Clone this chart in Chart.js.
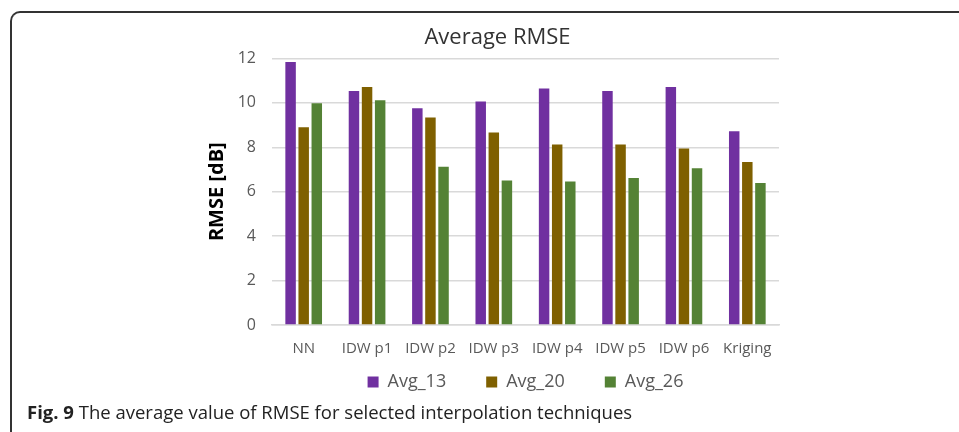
<!DOCTYPE html>
<html>
<head>
<meta charset="utf-8">
<script src="https://cdn.jsdelivr.net/npm/chart.js@4.4.1/dist/chart.umd.min.js"></script>
<style>
    body { margin: 0; background: #fff; width: 959px; height: 432px; overflow: hidden; position: relative; font-family: "Open Sans", sans-serif; }
    .frame { position: absolute; left: 10px; top: 11px; width: 960px; height: 440px; border-left: 2px solid #333; border-top: 2px solid #333; border-top-left-radius: 10px; }
    .chart-box { position: absolute; left: 0; top: 0; width: 959px; height: 443px; }
    .caption { position: absolute; left: 27px; top: 399px; font-size: 18.5px; color: #222; white-space: nowrap; }
    .caption b { font-weight: 700; }
</style>
</head>
<body>
<div class="frame"></div>
<div class="chart-box"><canvas id="rmseChart"></canvas></div>
<div class="caption"><b>Fig. 9</b> The average value of RMSE for selected interpolation techniques</div>
<script>
// interpolation methods on the x axis
const methods = ['NN', 'IDW p1', 'IDW p2', 'IDW p3', 'IDW p4', 'IDW p5', 'IDW p6', 'Kriging'];

// average RMSE per method
const avg13 = [11.84, 10.53, 9.76, 10.06, 10.65, 10.53, 10.71, 8.72];
const avg20 = [8.90, 10.71, 9.34, 8.66, 8.13, 8.13, 7.95, 7.34];
const avg26 = [9.98, 10.12, 7.12, 6.50, 6.46, 6.62, 7.05, 6.39];

const seriesNames = ['Avg_13', 'Avg_20', 'Avg_26'];
const seriesColors = ['#7030A0', '#7F6000', '#548235'];

const yTicks = [0, 2, 4, 6, 8, 10, 12];

const tickColor = '#595959';
const gridColor = '#D9D9D9';

// nudge the legend up under the labels and the title a bit to the right, like the original
const nudgeBoxes = {
    id: 'nudgeBoxes',
    afterLayout: function(chart) {
        chart.legend.top -= 32;
        chart.legend.bottom -= 32;
        chart.titleBlock.left += 20;
    }
};

const ctx = document.getElementById('rmseChart').getContext('2d');
const rmseChart = new Chart(ctx, {
    type: 'bar',
    data: {
        labels: methods,
        datasets: [avg13, avg20, avg26].map((values, i) => ({
            label: seriesNames[i],
            data: values,
            backgroundColor: seriesColors[i],
            borderWidth: 0,
            categoryPercentage: 0.62,
            barPercentage: 0.8
        }))
    },
    options: {
        responsive: true,
        maintainAspectRatio: false,
        animation: false,
        layout: {
            padding: { left: 196, right: 180, top: 14, bottom: 10 }
        },
        scales: {
            x: {
                grid: { display: false },
                border: { color: gridColor, width: 1.5 },
                ticks: {
                    color: tickColor,
                    padding: 7,
                    maxRotation: 0,
                    autoSkip: false,
                    font: { family: 'Open Sans', size: 15 }
                }
            },
            y: {
                min: 0,
                max: 12,
                grid: { color: gridColor, lineWidth: 1.5, drawTicks: false },
                border: { display: false },
                afterBuildTicks: function(scale) {
                    scale.ticks = yTicks.map(v => ({ value: v }));
                },
                ticks: {
                    color: tickColor,
                    padding: 16,
                    font: { family: 'Open Sans', size: 16 }
                },
                title: {
                    display: true,
                    text: 'RMSE [dB]',
                    color: '#000',
                    padding: { top: 9, bottom: 0 },
                    font: { family: 'Open Sans', size: 20, weight: 'bold' }
                },
                afterFit: function(scale) {
                    scale.width = 76;
                }
            }
        },
        plugins: {
            title: {
                display: true,
                text: 'Average RMSE',
                color: '#333',
                padding: { top: 11, bottom: 7 },
                font: { family: 'Open Sans', size: 22, weight: 'normal' }
            },
            legend: {
                position: 'bottom',
                fullSize: false,
                labels: {
                    color: tickColor,
                    boxWidth: 11,
                    boxHeight: 11,
                    padding: 40,
                    font: { family: 'Open Sans', size: 18 }
                }
            },
            tooltip: { enabled: false }
        }
    },
    plugins: [nudgeBoxes]
});
</script>
</body>
</html>
